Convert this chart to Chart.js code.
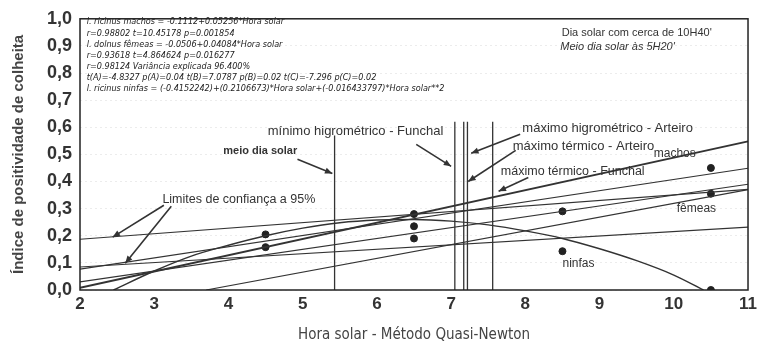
<!DOCTYPE html>
<html>
<head>
<meta charset="utf-8">
<script src="https://cdn.jsdelivr.net/npm/chart.js@4.4.0/dist/chart.umd.min.js"></script>
<style>
  html, body { margin: 0; padding: 0; background: #fff; }
</style>
</head>
<body>
<canvas id="chart" width="761" height="348"></canvas>
<script>
// observed points (hora solar, indice)
const pointX = [4.5, 4.5, 6.5, 6.5, 6.5, 8.5, 8.5, 10.5, 10.5, 10.5];
const pointY = [0.205, 0.158, 0.28, 0.235, 0.19, 0.29, 0.143, 0.45, 0.355, 0.0];

// straight fits and confidence limits, read at both ends
const fitX = [2, 11];
const machosFit = [0.008, 0.548];
const machosLimit = [0.077, 0.449];
const femeasFit = [0.03, 0.39];
const upperLimit = [0.187, 0.371];
const flatLimit = [0.085, 0.232];
const lowerLimitX = [3.7, 11];
const lowerLimit = [0, 0.37];

// ninfas curve
const ninfasX = [2.45, 3, 3.5, 4, 4.5, 5, 5.5, 6, 6.5, 7, 7.5, 8, 8.5, 9, 9.5, 10, 10.4];
const ninfasY = [0, 0.07, 0.125, 0.165, 0.2, 0.228, 0.248, 0.258, 0.26, 0.254, 0.24, 0.218, 0.19, 0.152, 0.108, 0.055, 0];

// vertical markers (meio dia solar, minimo/maximo higrometrico, maximo termico)
const markX = [5.43, 7.05, 7.17, 7.22, 7.56];
const markTop = [0.57, 0.62, 0.62, 0.62, 0.62];

const statLines = [
  'l. ricinus machos = -0.1112+0.05256*Hora solar',
  'r=0.98802 t=10.45178 p=0.001854',
  'l. dolnus fêmeas = -0.0506+0.04084*Hora solar',
  'r=0.93618 t=4.864624 p=0.016277',
  'r=0.98124 Variância explicada 96.400%',
  't(A)=-4.8327 p(A)=0.04 t(B)=7.0787 p(B)=0.02 t(C)=-7.296 p(C)=0.02',
  'l. ricinus ninfas = (-0.4152242)+(0.2106673)*Hora solar+(-0.016433797)*Hora solar**2'
];
const statY = [0.989, 0.945, 0.904, 0.864, 0.824, 0.783, 0.743];

// labels: text, x, y (data units, left aligned), font
const labels = [
  ['meio dia solar', 3.93, 0.511, 'bold 11px "Liberation Sans"'],
  ['mínimo higrométrico - Funchal', 4.53, 0.585, '13px "Liberation Sans"'],
  ['máximo higrométrico - Arteiro', 7.96, 0.596, '13px "Liberation Sans"'],
  ['máximo térmico - Arteiro', 7.83, 0.53, '13px "Liberation Sans"'],
  ['máximo térmico - Funchal', 7.67, 0.4375, '12.5px "Liberation Sans"'],
  ['Limites de confiança a 95%', 3.11, 0.335, '12.5px "Liberation Sans"'],
  ['machos', 9.73, 0.504, '12px "Liberation Sans"'],
  ['fêmeas', 10.04, 0.30, '12px "Liberation Sans"'],
  ['ninfas', 8.5, 0.096, '12px "Liberation Sans"'],
  ["Dia solar com cerca de 10H40'", 8.49, 0.949, '11px "Liberation Sans"'],
  ["Meio dia solar às 5H20'", 8.47, 0.897, 'italic 11px "Liberation Sans"']
];

// arrows: x1, y1 -> x2, y2 (head at end)
const arrows = [
  [4.93, 0.482, 5.4, 0.43],
  [6.53, 0.537, 7.0, 0.456],
  [7.93, 0.574, 7.27, 0.504],
  [7.87, 0.515, 7.23, 0.40],
  [8.04, 0.415, 7.64, 0.364],
  [3.13, 0.3125, 2.44, 0.195],
  [3.23, 0.309, 2.61, 0.099]
];

const ink = '#333';

const pairs = (xs, ys) => xs.map((x, i) => ({ x: x, y: ys[i] }));
const lineSet = (xs, ys, width) => ({
  type: 'line',
  data: pairs(xs, ys),
  borderColor: ink,
  borderWidth: width || 1.1,
  pointRadius: 0,
  fill: false
});

const datasets = [
  lineSet(fitX, machosFit, 2),
  lineSet(fitX, machosLimit),
  lineSet(fitX, femeasFit),
  lineSet(fitX, upperLimit),
  lineSet(fitX, flatLimit),
  lineSet(lowerLimitX, lowerLimit),
  Object.assign(lineSet(ninfasX, ninfasY, 1.4), { cubicInterpolationMode: 'monotone' })
];
markX.forEach((x, i) => {
  datasets.push(lineSet([x, x], [0, markTop[i]], 1.3));
});
datasets.push({
  type: 'scatter',
  data: pairs(pointX, pointY),
  backgroundColor: '#222',
  borderColor: '#222',
  pointRadius: 3.5
});

const overlay = {
  id: 'overlay',
  afterDatasetsDraw(chart) {
    const { ctx, chartArea: a, scales: { x, y } } = chart;
    ctx.save();
    // frame
    ctx.strokeStyle = '#222';
    ctx.lineWidth = 1.5;
    ctx.strokeRect(a.left, a.top, a.right - a.left, a.bottom - a.top);

    ctx.fillStyle = '#222';
    ctx.textBaseline = 'middle';
    ctx.textAlign = 'left';
    ctx.font = 'italic 9px "Liberation Sans Narrow", "DejaVu Sans Condensed"';
    statLines.forEach((t, i) => {
      ctx.fillText(t, x.getPixelForValue(2.09), y.getPixelForValue(statY[i]));
    });

    ctx.fillStyle = '#333';
    labels.forEach(([t, lx, ly, f]) => {
      ctx.font = f;
      ctx.fillText(t, x.getPixelForValue(lx), y.getPixelForValue(ly));
    });

    ctx.strokeStyle = '#333';
    ctx.lineWidth = 1.6;
    arrows.forEach(([x1, y1, x2, y2]) => {
      const px1 = x.getPixelForValue(x1), py1 = y.getPixelForValue(y1);
      const px2 = x.getPixelForValue(x2), py2 = y.getPixelForValue(y2);
      const ang = Math.atan2(py2 - py1, px2 - px1);
      ctx.beginPath();
      ctx.moveTo(px1, py1);
      ctx.lineTo(px2, py2);
      ctx.stroke();
      ctx.beginPath();
      ctx.moveTo(px2, py2);
      ctx.lineTo(px2 - 8 * Math.cos(ang - 0.4), py2 - 8 * Math.sin(ang - 0.4));
      ctx.lineTo(px2 - 8 * Math.cos(ang + 0.4), py2 - 8 * Math.sin(ang + 0.4));
      ctx.closePath();
      ctx.fill();
    });
    ctx.restore();
  }
};

new Chart(document.getElementById('chart'), {
  type: 'scatter',
  data: { datasets: datasets },
  options: {
    responsive: false,
    animation: false,
    devicePixelRatio: 1,
    layout: { padding: { top: 15, right: 6, left: 0, bottom: 0 } },
    plugins: { legend: { display: false }, tooltip: { enabled: false } },
    scales: {
      x: {
        type: 'linear',
        min: 2,
        max: 11,
        afterFit: (s) => { s.height = 58; },
        ticks: {
          stepSize: 1,
          color: '#333',
          padding: 4,
          font: { family: '"Liberation Sans"', size: 17, weight: 'bold' }
        },
        grid: { display: false, drawTicks: false },
        border: { display: false },
        title: {
          display: true,
          text: 'Hora solar - Método Quasi-Newton',
          color: '#444',
          font: { family: '"Liberation Sans Narrow", "DejaVu Sans Condensed"', size: 15 },
          padding: { top: 2, bottom: 4 }
        }
      },
      y: {
        min: 0,
        max: 1,
        afterFit: (s) => { s.width = 80; },
        ticks: {
          stepSize: 0.1,
          color: '#333',
          padding: 8,
          font: { family: '"Liberation Sans"', size: 18, weight: 'bold' },
          callback: (v) => v.toFixed(1).replace('.', ',')
        },
        grid: { color: '#ececec', drawTicks: false },
        border: { display: false, dash: [2, 3] },
        title: {
          display: true,
          text: 'Índice de positividade de colheita',
          color: '#444',
          font: { family: '"Liberation Sans"', size: 15, weight: 'bold' },
          padding: { top: 10, bottom: 0 }
        }
      }
    }
  },
  plugins: [overlay]
});
</script>
</body>
</html>
